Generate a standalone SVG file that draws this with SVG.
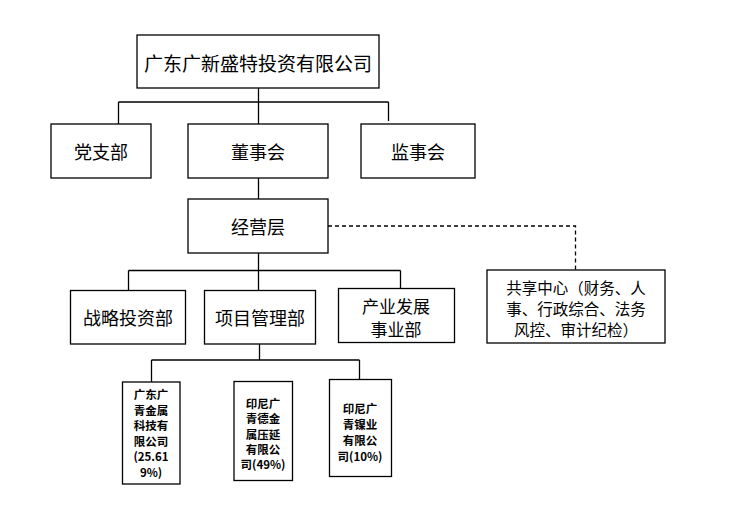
<svg xmlns="http://www.w3.org/2000/svg" width="740" height="515" viewBox="0 0 740 515">
<style>
rect{fill:#fff;stroke:#000;stroke-width:1.3}
.c line,.c path{stroke:#000;stroke-width:1.3;fill:none}
.d{stroke-dasharray:4 3}
text{font-family:"Noto Sans CJK SC","Liberation Sans",sans-serif;fill:#000;text-anchor:middle;dominant-baseline:central}
.t{font-size:19px}
.m{font-size:18px}
.p{font-size:17px}
.s{font-size:15.5px}
.x{font-size:11.5px;font-weight:bold}
</style>
<rect x="0" y="0" width="740" height="515" style="stroke:none"/>
<g class="c" id="connectors">
<line x1="258.5" y1="88" x2="258.5" y2="124"/>
<line x1="118.5" y1="102" x2="388.5" y2="102"/>
<line x1="118.5" y1="102" x2="118.5" y2="124"/>
<line x1="388.5" y1="102" x2="388.5" y2="121"/>
<line x1="258.5" y1="178" x2="258.5" y2="199"/>
<path class="d" d="M328 226H575.5V270"/>
<line x1="258.5" y1="253" x2="258.5" y2="291"/>
<line x1="128.5" y1="270.5" x2="400.5" y2="270.5"/>
<line x1="128.5" y1="270.5" x2="128.5" y2="291"/>
<line x1="400.5" y1="270.5" x2="400.5" y2="288"/>
<line x1="259.5" y1="344" x2="259.5" y2="360"/>
<line x1="151.5" y1="360" x2="359.5" y2="360"/>
<line x1="151.5" y1="360" x2="151.5" y2="382"/>
<line x1="359.5" y1="360" x2="359.5" y2="379"/>
</g>
<g id="top"><rect x="137" y="35" width="242" height="53"/><text class="t" x="258" y="62">广东广新盛特投资有限公司</text></g>
<g id="dangzhibu"><rect x="51" y="124" width="100" height="54"/><text class="m" x="101" y="151">党支部</text></g>
<g id="dongshihui"><rect x="188" y="124" width="140" height="54"/><text class="m" x="258" y="151">董事会</text></g>
<g id="jianshihui"><rect x="361" y="124" width="114" height="54"/><text class="m" x="418" y="151">监事会</text></g>
<g id="jingyingceng"><rect x="188" y="199" width="140" height="54"/><text class="m" x="258" y="226">经营层</text></g>
<g id="gongxiang"><rect x="487" y="270" width="178" height="73"/>
<text class="s" x="576" y="287">共享中心（财务、人</text>
<text class="s" x="576" y="308">事、行政综合、法务</text>
<text class="s" x="576" y="329">风控、审计纪检）</text></g>
<g id="zhanlue"><rect x="70.5" y="290.5" width="115" height="53.5"/><text class="m" x="128" y="317">战略投资部</text></g>
<g id="xiangmu"><rect x="204.5" y="290.5" width="111" height="53.5"/><text class="m" x="260" y="317">项目管理部</text></g>
<g id="chanye"><rect x="338.5" y="288.5" width="116" height="54"/>
<text class="p" x="396" y="305">产业发展</text>
<text class="p" x="396" y="328">事业部</text></g>
<g id="sub1"><rect x="122.5" y="382" width="57.5" height="102"/>
<text class="x" x="151" y="394">广东广</text>
<text class="x" x="151" y="409.6">青金属</text>
<text class="x" x="151" y="425.2">科技有</text>
<text class="x" x="151" y="440.8">限公司</text>
<text class="x" x="151" y="456.4">(25.61</text>
<text class="x" x="151" y="472">9%)</text></g>
<g id="sub2"><rect x="234" y="381.5" width="58.5" height="99"/>
<text class="x" x="263" y="403">印尼广</text>
<text class="x" x="263" y="418.3">青德金</text>
<text class="x" x="263" y="433.6">属压延</text>
<text class="x" x="263" y="448.9">有限公</text>
<text class="x" x="263" y="464.2">司(49%)</text></g>
<g id="sub3"><rect x="329.5" y="379.5" width="62" height="97"/>
<text class="x" x="360" y="408">印尼广</text>
<text class="x" x="360" y="424">青镍业</text>
<text class="x" x="360" y="440">有限公</text>
<text class="x" x="360" y="456">司(10%)</text></g>
</svg>
